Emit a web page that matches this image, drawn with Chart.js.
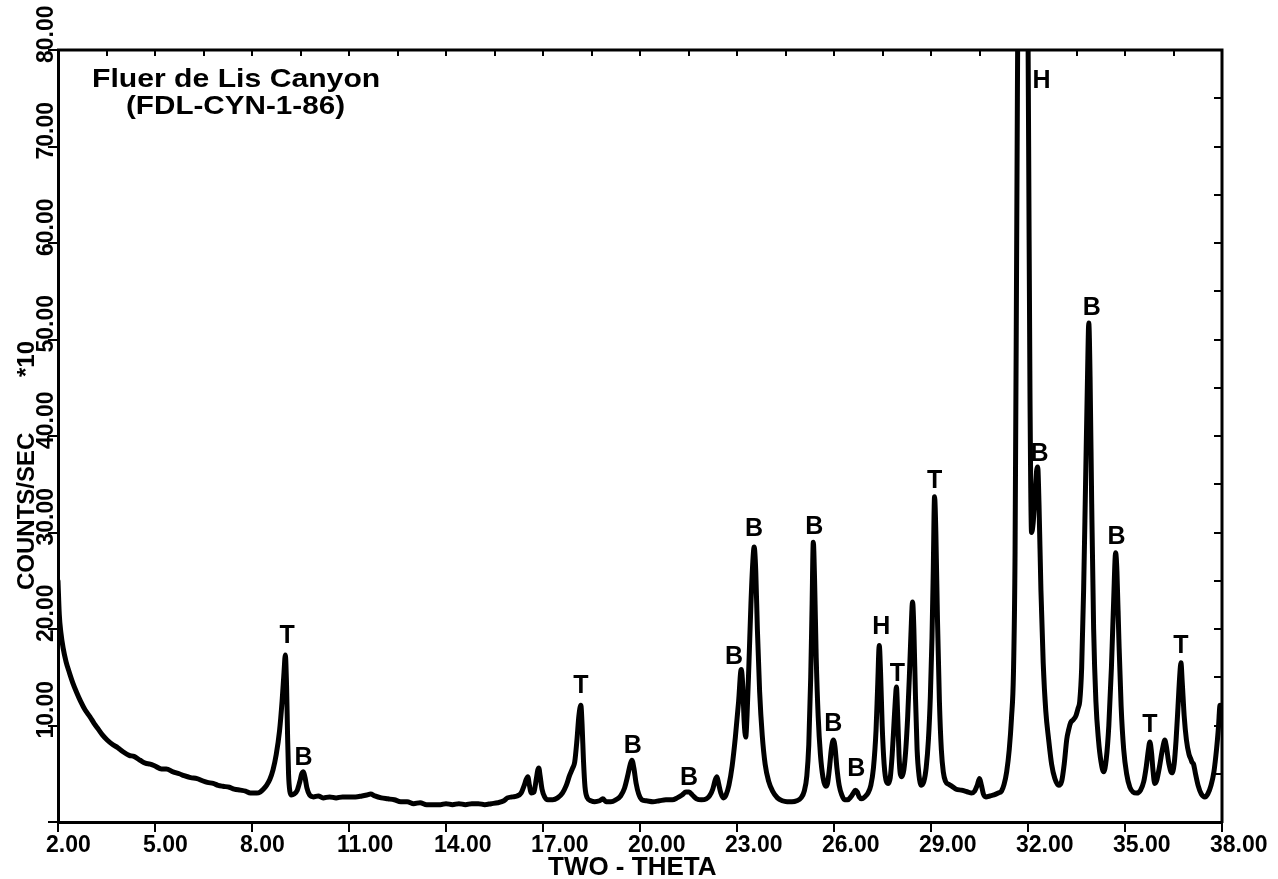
<!DOCTYPE html>
<html>
<head>
<meta charset="utf-8">
<script src="https://cdn.jsdelivr.net/npm/chart.js@4.4.0/dist/chart.umd.min.js"></script>
<style>
  html, body { margin: 0; padding: 0; background: #fff; }
  canvas { display: block; }
</style>
</head>
<body>
<canvas id="xrd" width="1278" height="879"></canvas>
<script>
// Diffraction angle (degrees two-theta)
const twoTheta = [
  2.00, 2.04, 2.09, 2.16, 2.25, 2.35, 2.46, 2.58, 2.70, 2.84, 2.99, 3.12, 3.25, 3.38, 3.52, 3.70, 3.85, 4.00,
  4.20, 4.35, 4.54, 4.70, 4.85, 5.00, 5.20, 5.35, 5.56, 5.75, 5.90, 6.10, 6.30, 6.45, 6.62, 6.80, 6.95, 7.10,
  7.30, 7.45, 7.64, 7.80, 7.95, 8.04, 8.15, 8.25, 8.35, 8.45, 8.55, 8.65, 8.75, 8.85, 8.93, 8.99, 9.03, 9.07,
  9.10, 9.13, 9.17, 9.22, 9.30, 9.40, 9.48, 9.54, 9.59, 9.64, 9.70, 9.78, 9.90, 10.05, 10.20, 10.40, 10.60,
  10.80, 11.00, 11.20, 11.40, 11.55, 11.67, 11.80, 12.00, 12.20, 12.40, 12.60, 12.80, 13.00, 13.20, 13.40,
  13.60, 13.83, 14.00, 14.20, 14.40, 14.60, 14.80, 15.00, 15.20, 15.40, 15.60, 15.79, 15.90, 16.05, 16.20,
  16.32, 16.42, 16.48, 16.53, 16.58, 16.64, 16.72, 16.79, 16.84, 16.87, 16.91, 16.97, 17.05, 17.15, 17.30,
  17.45, 17.60, 17.72, 17.82, 17.92, 17.98, 18.05, 18.11, 18.17, 18.21, 18.25, 18.30, 18.37, 18.48, 18.60,
  18.75, 18.85, 18.95, 19.10, 19.25, 19.40, 19.52, 19.62, 19.70, 19.75, 19.81, 19.88, 19.96, 20.06, 20.20,
  20.40, 20.60, 20.80, 21.00, 21.15, 21.30, 21.42, 21.52, 21.62, 21.75, 21.90, 22.05, 22.15, 22.25, 22.33,
  22.38, 22.43, 22.50, 22.58, 22.66, 22.75, 22.85, 22.95, 23.05, 23.13, 23.18, 23.22, 23.27, 23.31, 23.37,
  23.43, 23.49, 23.53, 23.58, 23.63, 23.70, 23.78, 23.87, 23.98, 24.10, 24.25, 24.40, 24.55, 24.70, 24.85,
  24.98, 25.08, 25.16, 25.22, 25.28, 25.32, 25.36, 25.40, 25.45, 25.51, 25.58, 25.66, 25.74, 25.80, 25.86,
  25.92, 25.98, 26.03, 26.09, 26.16, 26.24, 26.33, 26.42, 26.52, 26.60, 26.66, 26.72, 26.78, 26.86, 26.95,
  27.05, 27.14, 27.22, 27.30, 27.35, 27.40, 27.44, 27.49, 27.55, 27.62, 27.68, 27.74, 27.80, 27.86, 27.90,
  27.93, 27.97, 28.01, 28.05, 28.10, 28.16, 28.22, 28.28, 28.33, 28.38, 28.43, 28.47, 28.52, 28.57, 28.63,
  28.70, 28.78, 28.85, 28.92, 28.98, 29.03, 29.07, 29.11, 29.15, 29.20, 29.26, 29.32, 29.38, 29.45, 29.55,
  29.65, 29.78, 29.94, 30.05, 30.15, 30.25, 30.35, 30.43, 30.50, 30.56, 30.62, 30.70, 30.82, 30.95, 31.08,
  31.18, 31.26, 31.34, 31.42, 31.49, 31.55, 31.60, 31.65, 31.71, 31.79, 31.88, 31.96, 32.02, 32.06, 32.11,
  32.16, 32.22, 32.27, 32.30, 32.34, 32.40, 32.47, 32.55, 32.64, 32.73, 32.83, 32.95, 33.04, 33.12, 33.20,
  33.26, 33.32, 33.40, 33.48, 33.55, 33.60, 33.66, 33.72, 33.78, 33.84, 33.88, 33.92, 33.97, 34.03, 34.10,
  34.18, 34.26, 34.34, 34.42, 34.50, 34.58, 34.65, 34.71, 34.75, 34.81, 34.88, 34.96, 35.05, 35.15, 35.25,
  35.36, 35.48, 35.58, 35.66, 35.72, 35.77, 35.82, 35.87, 35.92, 35.98, 36.06, 36.14, 36.20, 36.23, 36.28,
  36.36, 36.45, 36.52, 36.58, 36.64, 36.69, 36.73, 36.77, 36.83, 36.90, 36.98, 37.04, 37.07, 37.12, 37.18,
  37.26, 37.36, 37.47, 37.56, 37.66, 37.75, 37.83, 37.89, 37.94, 38.00
];

// Intensity (counts/sec x10)
const counts = [
  25.0, 21.5, 19.6, 18.0, 16.6, 15.5, 14.4, 13.4, 12.5, 11.6, 10.9, 10.2, 9.6, 9.0, 8.5, 8.0, 7.7, 7.3,
  6.9, 6.8, 6.4, 6.1, 6.0, 5.8, 5.5, 5.5, 5.2, 5.0, 4.8, 4.6, 4.5, 4.3, 4.1, 4.0, 3.8, 3.7,
  3.6, 3.4, 3.3, 3.2, 3.0, 3.0, 3.0, 3.1, 3.4, 3.8, 4.4, 5.4, 7.0, 9.4, 12.5, 15.5, 17.3, 14.0,
  9.0, 5.0, 3.2, 2.8, 2.9, 3.3, 4.2, 5.0, 5.2, 4.6, 3.5, 2.8, 2.6, 2.7, 2.5, 2.6, 2.5,
  2.6, 2.6, 2.6, 2.7, 2.8, 2.9, 2.7, 2.5, 2.4, 2.3, 2.1, 2.1, 1.9, 2.0, 1.8,
  1.8, 1.8, 1.9, 1.8, 1.9, 1.8, 1.9, 1.9, 1.8, 1.9, 2.0, 2.2, 2.5, 2.6, 2.7,
  3.0, 3.8, 4.4, 4.7, 3.8, 3.0, 3.1, 4.4, 5.4, 5.6, 4.8, 3.4, 2.6, 2.3, 2.3,
  2.5, 3.0, 3.8, 4.8, 5.6, 6.2, 8.5, 11.0, 12.1, 10.0, 6.5, 3.6, 2.5, 2.2, 2.1,
  2.2, 2.4, 2.1, 2.1, 2.3, 2.7, 3.5, 4.8, 6.0, 6.4, 5.6, 4.0, 2.9, 2.3, 2.2,
  2.1, 2.2, 2.3, 2.3, 2.5, 2.8, 3.1, 3.1, 2.8, 2.4, 2.3, 2.4, 2.7, 3.4, 4.4,
  4.7, 4.0, 3.0, 2.5, 2.8, 3.8, 5.8, 8.8, 12.5, 15.8, 14.0, 10.5, 8.8, 11.0, 16.5,
  22.5, 27.0, 28.5, 26.0, 20.0, 13.5, 9.0, 6.0, 4.2, 3.2, 2.5, 2.2, 2.1, 2.1, 2.2,
  2.5, 3.2, 4.8, 8.0, 15.0, 22.0, 29.0, 25.0, 17.0, 11.0, 7.0, 4.6, 3.7, 4.0, 5.6,
  7.6, 8.5, 7.8, 5.6, 3.8, 2.8, 2.3, 2.3, 2.6, 3.0, 3.3, 3.1, 2.6, 2.4, 2.6,
  3.0, 3.8, 5.6, 9.5, 14.0, 18.3, 15.5, 10.0, 6.0, 4.2, 4.0, 4.6, 7.0, 10.5, 12.8,
  14.0, 11.0, 7.0, 5.0, 4.7, 5.4, 7.5, 11.0, 15.0, 19.5, 22.8, 20.0, 13.0, 7.5, 4.8,
  3.8, 4.2, 5.6, 8.5, 13.0, 19.0, 26.0, 33.7, 30.0, 21.0, 12.5, 7.5, 5.2, 4.2, 3.9,
  3.7, 3.4, 3.3, 3.2, 3.1, 3.0, 3.2, 3.8, 4.5, 3.8, 2.9, 2.6, 2.7, 2.8, 3.0,
  3.2, 3.9, 5.2, 7.5, 10.8, 15.4, 28.0, 60.0, 100.0, 130.0, 130.0, 105.0, 70.0, 45.0, 30.0,
  31.0, 34.0, 36.5, 36.8, 33.0, 24.0, 16.5, 11.5, 8.5, 6.0, 4.5, 3.8, 4.2, 6.0, 8.6,
  9.6, 10.3, 10.6, 11.0, 11.8, 12.5, 16.0, 24.0, 35.0, 46.0, 51.7, 46.0, 33.0, 20.0, 12.5,
  8.5, 6.2, 5.2, 6.5, 10.0, 16.0, 23.0, 27.9, 26.0, 19.0, 12.0, 7.5, 5.0, 3.6, 3.1,
  3.0, 3.3, 4.2, 5.8, 7.4, 8.3, 7.2, 5.2, 4.0, 4.3, 5.6, 7.2, 8.2, 8.5, 7.8,
  6.0, 5.1, 6.0, 8.5, 12.0, 15.0, 16.5, 14.5, 11.0, 8.5, 7.0, 6.5, 6.2, 6.0, 5.0,
  3.8, 2.9, 2.6, 2.9, 3.8, 5.2, 7.5, 9.8, 12.1, 11.5
];

// Axis ticks and their printed labels
const xTickValues = [2, 5, 8, 11, 14, 17, 20, 23, 26, 29, 32, 35, 38];
const xTickLabels = ['2.00', '5.00', '8.00', '11.00', '14.00', '17.00', '20.00', '23.00', '26.00', '29.00', '32.00', '35.00', '38.00'];
const yTickValues = [0, 10, 20, 30, 40, 50, 60, 70, 80];
const yTickLabels = ['', '10.00', '20.00', '30.00', '40.00', '50.00', '60.00', '70.00', '80.00'];

// Phase identifications over the reflections (T, B, H)
const peakPhase = ['T', 'B', 'T', 'B', 'B', 'B', 'B', 'B', 'B', 'B', 'H', 'T', 'T', 'B', 'H', 'B', 'B', 'T', 'T'];
const peakTheta = [9.09, 9.59, 18.17, 19.78, 21.52, 22.91, 23.53, 25.39, 25.98, 26.69, 27.46, 27.96, 29.11, 32.36, 32.42, 33.97, 34.74, 35.77, 36.73];
const peakLevel = [19.4, 6.7, 14.2, 8.0, 4.7, 17.2, 30.5, 30.7, 10.2, 5.6, 20.3, 15.4, 35.4, 38.2, 76.9, 53.4, 29.6, 10.1, 18.3];

const sampleName = 'Fluer de Lis Canyon';
const sampleId = '(FDL-CYN-1-86)';
const xTitle = 'TWO - THETA';
const yTitle = 'COUNTS/SEC';
const yScaleNote = '*10';

const FONT = '"Liberation Sans", Arial, sans-serif';

// draws a string with a horizontal stretch, left edge at (x, y)
function wideText(ctx, text, x, y, sx) {
  ctx.save();
  ctx.translate(x, y);
  ctx.scale(sx, 1);
  ctx.fillText(text, 0, 0);
  ctx.restore();
}

const decorations = {
  id: 'decorations',
  afterDraw(chart) {
    const ctx = chart.ctx;
    const xs = chart.scales.x;
    const ys = chart.scales.y;
    const a = chart.chartArea;
    ctx.save();
    ctx.strokeStyle = '#000';
    ctx.fillStyle = '#000';

    // closing frame on top and right
    ctx.lineWidth = 3;
    ctx.beginPath();
    ctx.moveTo(a.left - 1, a.top);
    ctx.lineTo(a.right, a.top);
    ctx.lineTo(a.right, a.bottom + 1);
    ctx.stroke();

    // inward ticks on the top edge (every 1.5 degrees)
    ctx.lineWidth = 2;
    ctx.beginPath();
    for (let v = 3.5; v < 38; v += 1.5) {
      const px = Math.round(xs.getPixelForValue(v));
      ctx.moveTo(px, a.top);
      ctx.lineTo(px, a.top + 6);
    }
    // inward ticks on the right edge (every 5 units)
    for (let v = 5; v < 80; v += 5) {
      const py = Math.round(ys.getPixelForValue(v));
      ctx.moveTo(a.right, py);
      ctx.lineTo(a.right - 8, py);
    }
    ctx.stroke();

    // x tick labels
    ctx.font = 'bold 23px ' + FONT;
    ctx.textAlign = 'left';
    ctx.textBaseline = 'alphabetic';
    xTickValues.forEach((v, i) => {
      const px = xs.getPixelForValue(v);
      ctx.fillText(xTickLabels[i], px - 12, a.bottom + 30);
    });

    // y tick labels, rotated
    yTickValues.forEach((v, i) => {
      if (!yTickLabels[i]) return;
      const py = ys.getPixelForValue(v);
      ctx.save();
      ctx.translate(a.left - 5, py + 13);
      ctx.rotate(-Math.PI / 2);
      ctx.fillText(yTickLabels[i], 0, 0);
      ctx.restore();
    });

    // axis titles
    ctx.font = 'bold 26px ' + FONT;
    ctx.fillText(xTitle, 548, a.bottom + 53);
    ctx.save();
    ctx.translate(34, 590);
    ctx.rotate(-Math.PI / 2);
    ctx.font = 'bold 24px ' + FONT;
    ctx.fillText(yTitle, 0, 0);
    ctx.fillText(yScaleNote, 213, 0);
    ctx.restore();

    // sample name
    ctx.font = 'bold 26px ' + FONT;
    wideText(ctx, sampleName, 92, 87, 1.16);
    wideText(ctx, sampleId, 126, 114, 1.14);

    // phase letters
    ctx.font = 'bold 25px ' + FONT;
    ctx.textAlign = 'center';
    ctx.textBaseline = 'middle';
    peakPhase.forEach((p, i) => {
      ctx.fillText(p, xs.getPixelForValue(peakTheta[i]), ys.getPixelForValue(peakLevel[i]) + 1);
    });
    ctx.restore();
  }
};

new Chart(document.getElementById('xrd'), {
  type: 'line',
  data: {
    datasets: [{
      data: twoTheta.map((t, i) => ({ x: t, y: counts[i] })),
      borderColor: '#000',
      borderWidth: 5,
      pointRadius: 0,
      fill: false,
      cubicInterpolationMode: 'monotone',
      borderJoinStyle: 'round',
      borderCapStyle: 'round'
    }]
  },
  options: {
    responsive: false,
    animation: false,
    devicePixelRatio: 1,
    layout: { padding: { top: 50, right: 56, left: 0, bottom: 0 } },
    plugins: { legend: { display: false }, tooltip: { enabled: false }, title: { display: false } },
    scales: {
      x: {
        type: 'linear',
        min: 2,
        max: 38,
        afterFit(s) { s.height = 57; },
        afterBuildTicks(s) { s.ticks = xTickValues.map(v => ({ value: v })); },
        ticks: { display: false },
        grid: { drawOnChartArea: false, drawTicks: true, tickLength: 10, color: '#000', lineWidth: 2 },
        border: { display: true, color: '#000', width: 3 }
      },
      y: {
        type: 'linear',
        min: 0,
        max: 80,
        afterFit(s) { s.width = 58; },
        afterBuildTicks(s) { s.ticks = yTickValues.map(v => ({ value: v })); },
        ticks: { display: false },
        grid: { drawOnChartArea: false, drawTicks: true, tickLength: 10, color: '#000', lineWidth: 2 },
        border: { display: true, color: '#000', width: 3 }
      }
    }
  },
  plugins: [decorations]
});
</script>
</body>
</html>
